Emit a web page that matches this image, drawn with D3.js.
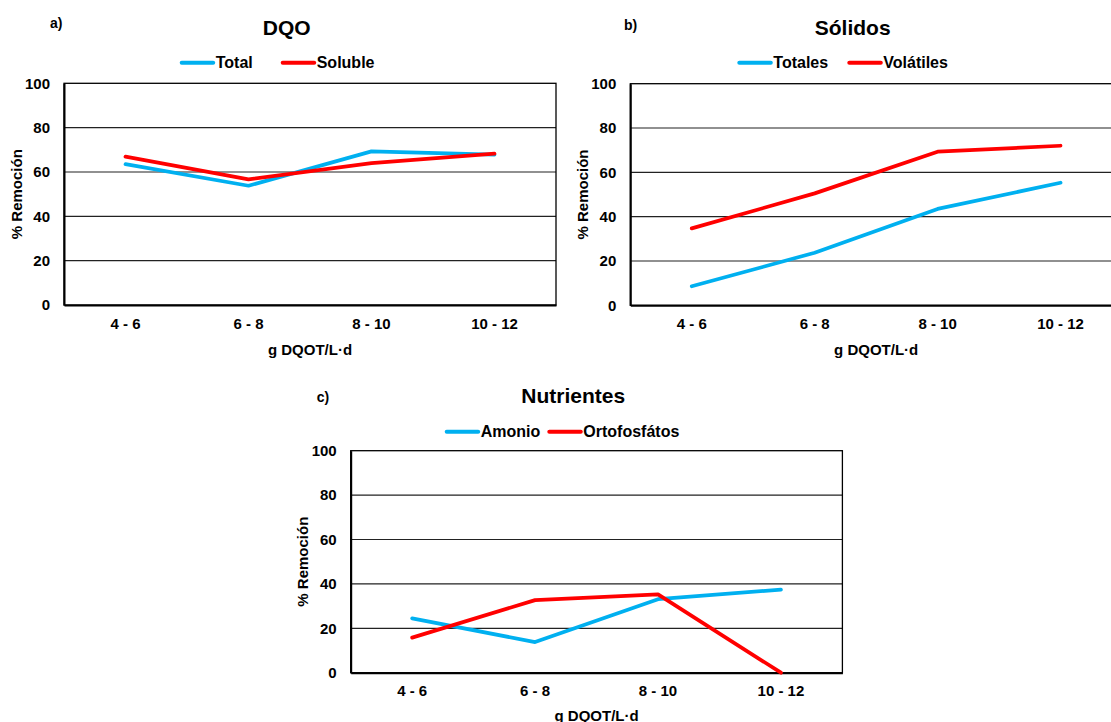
<!DOCTYPE html>
<html>
<head>
<meta charset="utf-8">
<script src="https://cdn.jsdelivr.net/npm/d3@7"></script>
<style>
  body { margin: 0; background: #fff; }
  svg { display: block; font-family: "Liberation Sans", Arial, sans-serif; font-weight: bold; }
</style>
</head>
<body>
<svg id="chart" width="1111" height="722"></svg>
<script>
  const categories = ["4 - 6", "6 - 8", "8 - 10", "10 - 12"];
  const yTicks = [0, 20, 40, 60, 80, 100];

  const dqoTotal = [63.5, 53.8, 69.3, 67.8];
  const dqoSoluble = [66.9, 56.7, 64.0, 68.3];
  const solidosTotales = [8.6, 23.7, 43.5, 55.3];
  const solidosVolatiles = [34.7, 50.5, 69.3, 72.0];
  const amonio = [24.5, 13.8, 33.1, 37.4];
  const ortofosfatos = [15.8, 32.7, 35.3, 0];

  const BLUE = "#00b0f0";
  const RED = "#ff0000";

  const panels = [
    {
      letter: "a)", title: "DQO",
      series: [{ name: "Total", values: dqoTotal, color: BLUE }, { name: "Soluble", values: dqoSoluble, color: RED }],
      plot: { left: 64, right: 556, top: 83.3, bottom: 305 },
      letterPos: [50, 23.3], titlePos: [286.7, 27.5],
      legendY: 62.7, legendX: [181.7, 282.7],
      yTitleX: 16, xTitleY: 349
    },
    {
      letter: "b)", title: "Sólidos",
      series: [{ name: "Totales", values: solidosTotales, color: BLUE }, { name: "Volátiles", values: solidosVolatiles, color: RED }],
      plot: { left: 630.3, right: 1122, top: 83.7, bottom: 305.3 },
      letterPos: [624, 25], titlePos: [852.7, 27.5],
      legendY: 62.7, legendX: [739.3, 849.3],
      yTitleX: 582, xTitleY: 349
    },
    {
      letter: "c)", title: "Nutrientes",
      series: [{ name: "Amonio", values: amonio, color: BLUE }, { name: "Ortofosfátos", values: ortofosfatos, color: RED }],
      plot: { left: 350.7, right: 842.4, top: 450.7, bottom: 672.7 },
      letterPos: [316.7, 396.7], titlePos: [573.3, 395],
      legendY: 431.7, legendX: [446.7, 549.3],
      yTitleX: 302.7, xTitleY: 715
    }
  ];

  const svg = d3.select("#chart");

  function drawPanel(p) {
    const g = svg.append("g");
    const x = d3.scaleBand().domain(categories).range([p.plot.left, p.plot.right]).padding(0);
    const y = d3.scaleLinear().domain([0, 100]).range([p.plot.bottom, p.plot.top]);
    const cx = c => x(c) + x.bandwidth() / 2;

    // gridlines
    g.append("g")
      .selectAll("line")
      .data(yTicks.filter(t => t > 0 && t < 100))
      .join("line")
      .attr("x1", p.plot.left).attr("x2", p.plot.right)
      .attr("y1", d => y(d)).attr("y2", d => y(d))
      .attr("stroke", "#222").attr("stroke-width", 1.2);

    // frame
    g.append("rect")
      .attr("x", p.plot.left).attr("y", p.plot.top)
      .attr("width", p.plot.right - p.plot.left)
      .attr("height", p.plot.bottom - p.plot.top)
      .attr("fill", "none").attr("stroke", "#000").attr("stroke-width", 1.3);

    // axes
    const yAxis = g.append("g")
      .attr("transform", `translate(${p.plot.left},0)`)
      .call(d3.axisLeft(y).tickValues(yTicks).tickSize(0).tickPadding(14));
    yAxis.select(".domain").attr("stroke", "#000").attr("stroke-width", 2);
    yAxis.selectAll("text").attr("font-size", 15).attr("fill", "#000")
      .attr("font-family", "Liberation Sans, Arial, sans-serif").attr("font-weight", "bold");

    const xAxis = g.append("g")
      .attr("transform", `translate(0,${p.plot.bottom})`)
      .call(d3.axisBottom(x).tickSize(0).tickPadding(13));
    xAxis.select(".domain").attr("stroke", "#000").attr("stroke-width", 2);
    xAxis.selectAll("text").attr("font-size", 15).attr("fill", "#000")
      .attr("font-family", "Liberation Sans, Arial, sans-serif").attr("font-weight", "bold");

    // series lines
    const line = d3.line().x((d, i) => cx(categories[i])).y(d => y(d));
    g.selectAll("path.series")
      .data(p.series)
      .join("path")
      .attr("class", "series")
      .attr("d", s => line(s.values))
      .attr("fill", "none")
      .attr("stroke", s => s.color)
      .attr("stroke-width", 3.75)
      .attr("stroke-linejoin", "round")
      .attr("stroke-linecap", "round");

    // axis titles
    g.append("text")
      .attr("transform", `translate(${p.yTitleX},${(p.plot.top + p.plot.bottom) / 2}) rotate(-90)`)
      .attr("text-anchor", "middle").attr("dominant-baseline", "central")
      .attr("font-size", 15).text("% Remoción");
    g.append("text")
      .attr("x", (p.plot.left + p.plot.right) / 2).attr("y", p.xTitleY)
      .attr("text-anchor", "middle").attr("dominant-baseline", "central")
      .attr("font-size", 15).text("g DQOT/L·d");

    // letter & title
    g.append("text")
      .attr("x", p.letterPos[0]).attr("y", p.letterPos[1])
      .attr("dominant-baseline", "central").attr("font-size", 14).text(p.letter);
    g.append("text")
      .attr("x", p.titlePos[0]).attr("y", p.titlePos[1])
      .attr("text-anchor", "middle").attr("dominant-baseline", "central")
      .attr("font-size", 21).text(p.title);

    // legend
    const leg = g.selectAll("g.legend")
      .data(p.series)
      .join("g")
      .attr("class", "legend")
      .attr("transform", (s, i) => `translate(${p.legendX[i]},${p.legendY})`);
    leg.append("line")
      .attr("x1", 0).attr("x2", 31.5).attr("y1", 0).attr("y2", 0)
      .attr("stroke", s => s.color).attr("stroke-width", 4).attr("stroke-linecap", "round");
    leg.append("text")
      .attr("x", 34).attr("y", 0)
      .attr("dominant-baseline", "central").attr("font-size", 16)
      .text(s => s.name);
  }

  panels.forEach(drawPanel);
</script>
</body>
</html>
